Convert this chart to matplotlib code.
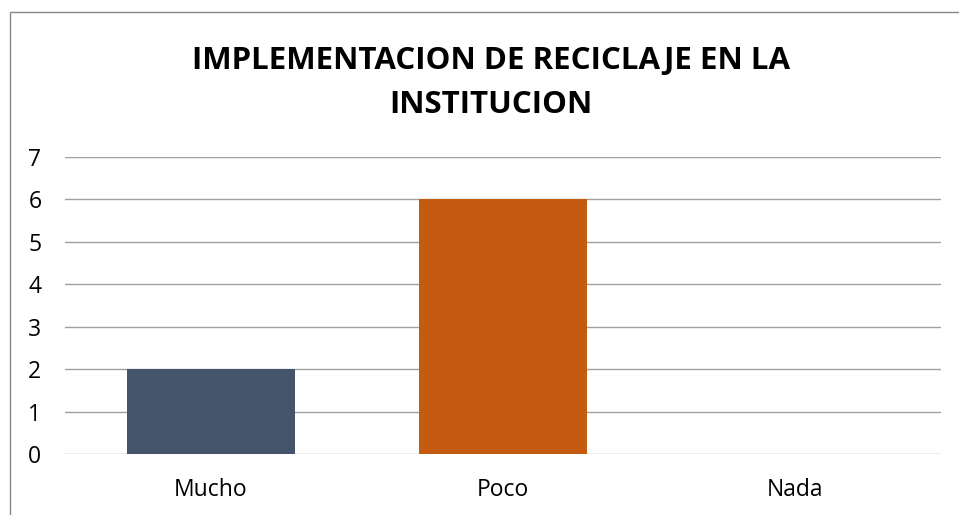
import matplotlib
matplotlib.use("Agg")
import matplotlib.pyplot as plt
from matplotlib.patches import Rectangle

categories = ["Mucho", "Poco", "Nada"]
values = [2, 6, 0]
colors = ["#44546A", "#C55A11", "#A5A5A5"]
yticks = [0, 1, 2, 3, 4, 5, 6, 7]
title = "IMPLEMENTACION DE RECICLAJE EN LA\nINSTITUCION"

W, H = 959, 515
fig = plt.figure(figsize=(W / 100, H / 100), dpi=100)
fig.patch.set_facecolor("white")

# chart frame
fig.add_artist(Rectangle((9.5 / W, -0.1), 2.0, 1.1 - 12 / H, transform=fig.transFigure,
                         fill=False, edgecolor="#888888", linewidth=1.0))

ax = fig.add_axes([65 / W, (H - 454) / H, (941 - 65) / W, (454 - 157) / H])
x = list(range(len(categories)))
ax.bar(x, values, width=0.575, color=colors, zorder=3)
ax.set_xlim(-0.5, len(categories) - 0.5)
ax.set_ylim(0, 7)
ax.set_yticks(yticks)
ax.set_xticks(x)
ax.set_xticklabels(categories)
ax.grid(axis="y", color="#A0A0A0", linewidth=1.0, zorder=0)
for s in ax.spines.values():
    s.set_visible(False)
ax.tick_params(axis="both", length=0, labelsize=16.5, colors="black")
ax.tick_params(axis="y", pad=17)
ax.tick_params(axis="x", pad=17)
for lbl in ax.get_xticklabels() + ax.get_yticklabels():
    lbl.set_fontfamily("Open Sans")

fig.text(491 / W, 1 - 83 / H, title, ha="center", va="center", fontsize=22.5,
         fontweight="bold", family="Open Sans", linespacing=1.6)

fig.savefig("out.png", dpi=100)
